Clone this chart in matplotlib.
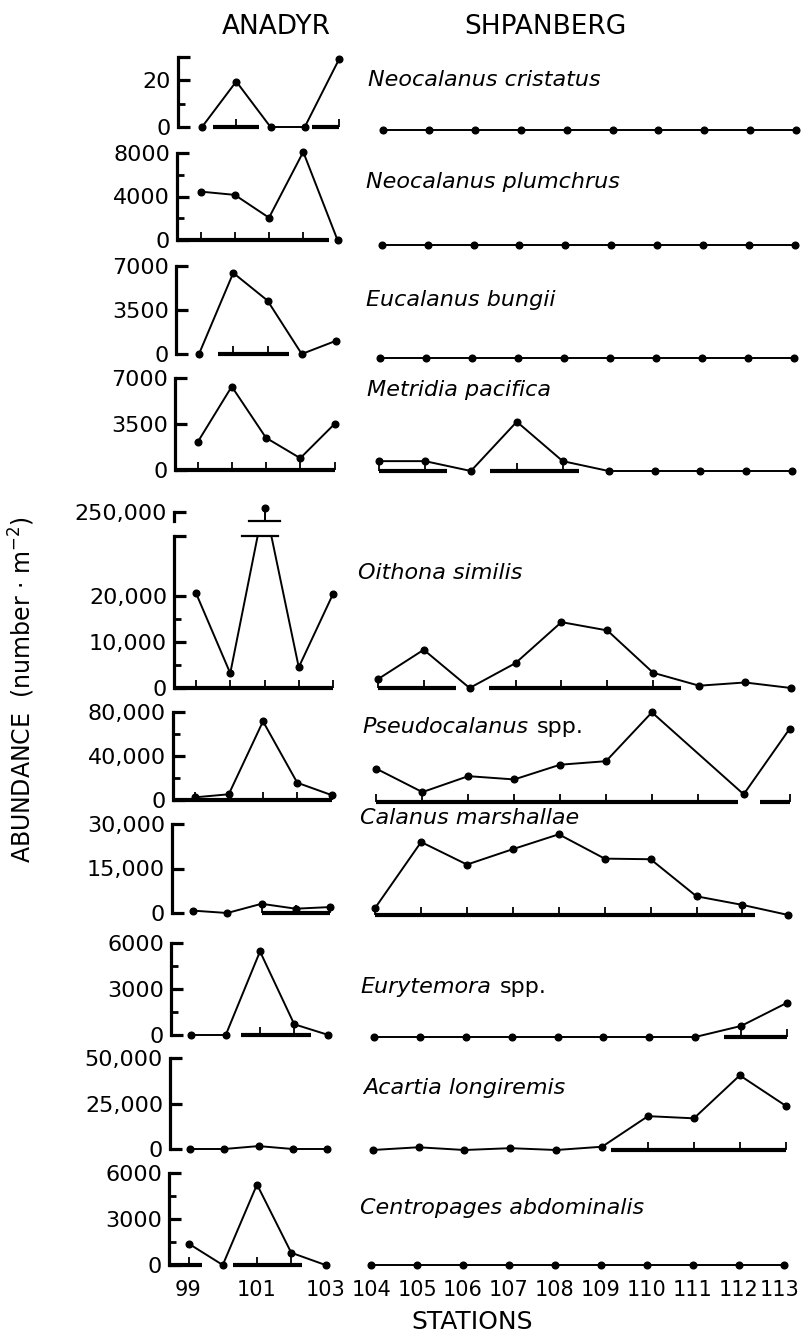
import numpy as np
import matplotlib.pyplot as plt

plt.rcParams["font.family"] = ["DejaVu Sans"]

# ================= data =================

ANADYR_STATIONS = [99, 100, 101, 102, 103]
SHPANBERG_STATIONS = [104, 105, 106, 107, 108, 109, 110, 111, 112, 113]
ANADYR_TICKS = [99, 101, 103]

SPECIES = [
    "Neocalanus cristatus",
    "Neocalanus plumchrus",
    "Eucalanus bungii",
    "Metridia pacifica",
    "Oithona similis",
    "Pseudocalanus",
    "Calanus marshallae",
    "Eurytemora",
    "Acartia longiremis",
    "Centropages abdominalis",
]
SPECIES_SUFFIX = ["", "", "", "", "", "spp.", "", "spp.", "", ""]

# abundance (number per m2), Anadyr stations 99-103 / Shpanberg 104-113
cristatus_a = [0, 19.5, 0, 0, 29]
cristatus_s = [0, 0, 0, 0, 0, 0, 0, 0, 0, 0]
plumchrus_a = [4450, 4150, 2050, 8100, 0]
plumchrus_s = [0, 0, 0, 0, 0, 0, 0, 0, 0, 0]
bungii_a = [0, 6450, 4250, 0, 1050]
bungii_s = [0, 0, 0, 0, 0, 0, 0, 0, 0, 0]
metridia_a = [2100, 6350, 2450, 900, 3500]
metridia_s = [750, 750, 0, 3750, 750, 0, 0, 0, 0, 0]
oithona_a = [20600, 3200, 252000, 4500, 20400]
oithona_s = [1900, 8300, 0, 5400, 14300, 12500, 3300, 500, 1200, 0]
pseudo_a = [2400, 5200, 71500, 15700, 4500]
pseudo_s = [30200, 9000, 23500, 20500, 33900, 37100, 81500, np.nan, 7000, 66500]
calanus_a = [800, 0, 3100, 1450, 2000]
calanus_s = [2400, 24600, 17000, 22200, 27200, 19000, 18800, 6300, 3400, 0]
eurytemora_a = [0, 0, 5450, 700, 0]
eurytemora_s = [0, 0, 0, 0, 0, 0, 0, 0, 720, 2230]
acartia_a = [0, 0, 1600, 0, 0]
acartia_s = [0, 1500, 0, 1000, 0, 1800, 18600, 17400, 41000, 24300]
centropages_a = [1400, 0, 5250, 800, 0]
centropages_s = [0, 0, 0, 0, 0, 0, 0, 0, 0, 0]

ANADYR = [cristatus_a, plumchrus_a, bungii_a, metridia_a, oithona_a,
          pseudo_a, calanus_a, eurytemora_a, acartia_a, centropages_a]
SHPANBERG = [cristatus_s, plumchrus_s, bungii_s, metridia_s, oithona_s,
             pseudo_s, calanus_s, eurytemora_s, acartia_s, centropages_s]

# y axis: top of scale, labelled ticks, minor ticks
Y_TOP = [30, 8000, 7000, 7000, 33000, 80000, 30000, 6000, 50000, 6000]
Y_MAJOR = [[0, 20], [0, 4000, 8000], [0, 3500, 7000], [0, 3500, 7000],
           [0, 10000, 20000], [0, 40000, 80000], [0, 15000, 30000],
           [0, 3000, 6000], [0, 25000, 50000], [0, 3000, 6000]]
Y_MINOR = [[10], [2000, 6000], [], [], [5000, 15000], [20000, 60000], [],
           [1500, 4500], [], [1500, 4500]]
OITHONA_PEAK_TICK = 250000
BROKEN_ROW = 4
BROKEN_STATION = 101

# heavy baseline bars (station spans), None = starts at the axis
BARS_A = [[(99.33, 100.65), (102.2, 103)], [(None, 102.75)], [(99.56, 101.63)],
          [(None, 103)], [(None, 103)], [(None, 103)], [(101, 103)],
          [(100.45, 102.5)], [], [(None, 99.4), (100.3, 102.3)]]
BARS_S = [[], [], [], [(104, 105.47), (106.41, 108.36)],
          [(104, 105.7), (106.43, 110.6)], [(104, 111.88), (112.35, 113)],
          [(104, 112.28)], [(111.63, 113)], [(109.2, 113)], []]

# ================= layout (pixels) =================

W, H = 801, 1342
ROW_TOP_PX = [57, 153, 266, 378, 536, 712, 824, 943, 1058, 1173]
ROW_ZERO_PX = [127, 240, 354, 470, 688, 800, 913, 1035, 1149, 1265]
SHP_DY = [3, 5, 4, 1, 0, 2, 2, 2, 1, 0]
LABEL_PX = [(368, 80), (366, 182), (366, 300), (367, 390), (358, 573),
            (362, 727), (360, 818), (360, 987), (363, 1088), (360, 1208)]
A_STEP, S_STEP = 34.25, 45.9
BELOW = 9
XLABEL_DROP = 25
BREAK_HALF = 0.2

LINE = dict(color="k", lw=1.4)
DOT = dict(color="k", ms=4.8, ls="none", marker="o")


def fmt(v):
    return f"{v:,}" if v >= 10000 else str(v)


def add_axes_px(left, top, width, height):
    return fig.add_axes([left / W, 1 - (top + height) / H, width / W, height / H])


def draw_bars(ax, spans, x0, tick_stations):
    for a, b in spans:
        a = x0 if a is None else a
        ax.plot([a, b], [0, 0], color="k", lw=3, solid_capstyle="butt", clip_on=False)
        inside = [s for s in tick_stations if a - 0.05 <= s <= b + 0.05]
        ax.plot(inside, [0] * len(inside), ls="none", marker=2, ms=6, mew=1.3,
                color="k", clip_on=False)


def station_labels(ax, stations, y, right_limit=None):
    for s in stations:
        t = ax.text(s, y, str(s), fontsize=15, ha="center", va="center", clip_on=False)
        if right_limit is not None:
            bb = t.get_window_extent(renderer)
            if bb.x1 > right_limit:
                t.set_ha("right")
                t.set_x(ax.transData.inverted().transform((right_limit, 0))[0])


def plain(ax):
    for side in ["top", "right", "bottom"]:
        ax.spines[side].set_visible(False)
    ax.patch.set_visible(False)
    ax.set_xticks([])


def style_y(ax, majors, labels, minors, bottom, top):
    ax.spines["left"].set_bounds(bottom, top)
    ax.spines["left"].set_linewidth(2.3)
    ax.set_yticks(majors, labels)
    ax.set_yticks(minors, minor=True)
    ax.tick_params(axis="y", which="major", direction="in", length=8.5, width=2.3,
                   labelsize=16, pad=5)
    ax.tick_params(axis="y", which="minor", direction="in", length=5, width=2)


fig = plt.figure(figsize=(W / 100, H / 100), dpi=100)
renderer = fig.canvas.get_renderer()

for r in range(10):
    spine_px = 178 - 1.0 * r
    s99_px = 202 - 1.5 * r
    s104_px = 383 - 1.3 * r
    top_px, zero_px = ROW_TOP_PX[r], ROW_ZERO_PX[r]
    ytop = Y_TOP[r]
    per_px = ytop / (zero_px - top_px)
    ymin = -BELOW * per_px

    # ---- Anadyr ----
    x0 = 99 - (s99_px - spine_px) / A_STEP
    x1 = 103.35
    ax = add_axes_px(spine_px, top_px, (x1 - x0) * A_STEP, zero_px + BELOW - top_px)
    plain(ax)
    ax.set_xlim(x0, x1)
    ax.set_ylim(ymin, ytop)
    majors = Y_MAJOR[r] + ([ytop] if ytop not in Y_MAJOR[r] else [])
    style_y(ax, majors, [fmt(v) if v in Y_MAJOR[r] else "" for v in majors],
            Y_MINOR[r], 0, ytop)

    draw_bars(ax, BARS_A[r], x0, ANADYR_STATIONS)
    vals_a = ANADYR[r]
    if r == BROKEN_ROW:
        # broken axis: the lower part runs the line up to the break
        i = ANADYR_STATIONS.index(BROKEN_STATION)
        xs = ANADYR_STATIONS[:i] + [BROKEN_STATION - BREAK_HALF, np.nan,
                                    BROKEN_STATION + BREAK_HALF] + ANADYR_STATIONS[i + 1:]
        ys = vals_a[:i] + [ytop, np.nan, ytop] + vals_a[i + 1:]
        ax.plot(xs, ys, **LINE, clip_on=False)
        ax.plot(ANADYR_STATIONS[:i] + ANADYR_STATIONS[i + 1:],
                vals_a[:i] + vals_a[i + 1:], **DOT, clip_on=False)
        ax.plot([100.35, 101.4], [ytop, ytop], color="k", lw=1.6, clip_on=False)

        # upper part holds the peak
        up_bottom = 245000
        up_per_px = (OITHONA_PEAK_TICK - up_bottom) / 9
        axu = add_axes_px(spine_px, 521 - 18, (x1 - x0) * A_STEP, 18)
        plain(axu)
        axu.set_xlim(x0, x1)
        axu.set_ylim(up_bottom, up_bottom + 18 * up_per_px)
        style_y(axu, [OITHONA_PEAK_TICK], [fmt(OITHONA_PEAK_TICK)], [],
                up_bottom, OITHONA_PEAK_TICK)
        axu.plot([BROKEN_STATION, BROKEN_STATION], [up_bottom, vals_a[i]], **LINE,
                 clip_on=False)
        axu.plot([BROKEN_STATION], [vals_a[i]], **DOT, clip_on=False)
        axu.plot([100.55, 101.45], [up_bottom, up_bottom], color="k", lw=1.6,
                 clip_on=False)
    else:
        ax.plot(ANADYR_STATIONS, vals_a, **LINE, clip_on=False)
        ax.plot(ANADYR_STATIONS, vals_a, **DOT, clip_on=False)
    if r == 9:
        station_labels(ax, ANADYR_TICKS, -XLABEL_DROP * per_px)

    # ---- Shpanberg ----
    sx0, sx1 = 103.6, 113.3
    axs = add_axes_px(s104_px - (104 - sx0) * S_STEP, top_px + SHP_DY[r],
                      (sx1 - sx0) * S_STEP, zero_px + BELOW - top_px)
    plain(axs)
    axs.spines["left"].set_visible(False)
    axs.set_xlim(sx0, sx1)
    axs.set_ylim(ymin, ytop)
    axs.set_yticks([])
    draw_bars(axs, BARS_S[r], sx0, SHPANBERG_STATIONS)
    vals = np.array(SHPANBERG[r], dtype=float)
    ok = ~np.isnan(vals)
    xs = np.array(SHPANBERG_STATIONS)[ok]
    axs.plot(xs, vals[ok], **LINE, clip_on=False)
    axs.plot(xs, vals[ok], **DOT, clip_on=False)
    if r == 9:
        station_labels(axs, SHPANBERG_STATIONS, -XLABEL_DROP * per_px, right_limit=W - 2)

# species names
for r, name in enumerate(SPECIES):
    tx, ty = LABEL_PX[r]
    t = fig.text(tx / W, 1 - ty / H, name, style="italic", fontsize=16,
                 ha="left", va="center")
    if SPECIES_SUFFIX[r]:
        bb = t.get_window_extent(renderer)
        fig.text((bb.x1 + 9) / W, 1 - ty / H, SPECIES_SUFFIX[r], fontsize=16,
                 ha="left", va="center")

fig.text(276 / W, 1 - 27 / H, "ANADYR", fontsize=19, ha="center", va="center")
fig.text(545 / W, 1 - 27 / H, "SHPANBERG", fontsize=19, ha="center", va="center")
fig.text(472 / W, 1 - 1322 / H, "STATIONS", fontsize=18, ha="center", va="center")
fig.text(22 / W, 1 - 690 / H, "ABUNDANCE  (number · m$^{-2}$)", fontsize=17,
         rotation=90, ha="center", va="center")

fig.savefig("out.png", dpi=100)
